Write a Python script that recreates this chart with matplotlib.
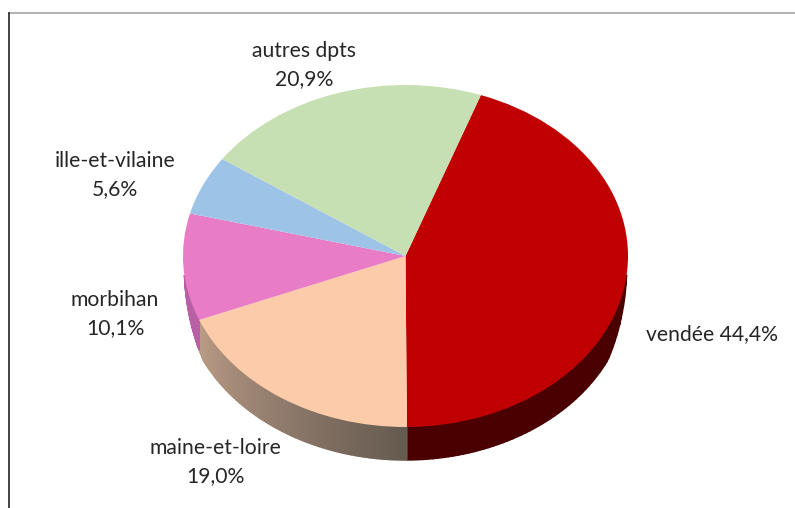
import numpy as np
import matplotlib
matplotlib.use('Agg')
import matplotlib.pyplot as plt
from matplotlib.colors import to_rgb

names = ['vendée', 'maine-et-loire', 'morbihan', 'ille-et-vilaine', 'autres dpts']
values = [44.4, 19.0, 10.1, 5.6, 20.9]
colors = ['#c00000', '#fbcbaa', '#e87cc6', '#9dc3e6', '#c6e0b4']
# wall colour at the left and right end of each slice
wall_left = ['#4a0000', '#bb9c87', '#b95fa5', '#7d9cb8', '#9eb38f']
wall_right = ['#4a0000', '#655a50', '#b95fa5', '#7d9cb8', '#9eb38f']

W, H = 795, 508
plt.rcParams['font.family'] = ['Lato', 'DejaVu Sans']

fig = plt.figure(figsize=(W / 100, H / 100), dpi=100)

# page axes in pixels, for the frame and the labels
page = fig.add_axes([0, 0, 1, 1])
page.set_xlim(0, W)
page.set_ylim(H, 0)
page.axis('off')
page.plot([9, W], [13, 13], color='#a6a6a6', lw=1.2)
page.plot([9, 9], [13, H], color='#222222', lw=1.2)

# pie top, squashed
left, right, top, bottom = 183, 628, 85, 427
ax = fig.add_axes([left / W, (H - bottom) / H, (right - left) / W, (bottom - top) / H])
depth = 33 / ((bottom - top) / 2)
start = 70.2

# side wall, thin strips so the shading can run along it
# the wall fades out towards the left and right ends of the ellipse
total = sum(values)
a0 = start
for v, cl, cr in zip(values, wall_left, wall_right):
    a1 = a0 - 360 * v / total
    th = np.radians(np.linspace(a1, a0, 120))
    x = np.cos(th)
    y = np.sin(th)
    d = depth * np.clip((-y - 0.115) / 0.3, 0, 1) ** 0.6
    for i in range(len(th) - 1):
        if d[i] == 0 and d[i + 1] == 0:
            continue
        t = i / (len(th) - 2)
        c = (1 - t) * np.array(to_rgb(cl)) + t * np.array(to_rgb(cr))
        ax.fill([x[i], x[i + 1], x[i + 1], x[i]],
                [y[i], y[i + 1], y[i + 1] - d[i + 1], y[i] - d[i]],
                facecolor=c, edgecolor=c, lw=1.0, clip_on=False, zorder=1)
    a0 = a1

wedges, _ = ax.pie(values, colors=colors, startangle=start, counterclock=False,
                   radius=1, wedgeprops={'zorder': 2, 'clip_on': False})
ax.set_aspect('auto')
ax.set_xlim(-1, 1)
ax.set_ylim(-1, 1)

# labels
pct = [f'{v:.1f}'.replace('.', ',') + '%' for v in values]
fs = 15.2
tc = '#262626'
sp = 1.47
page.text(712, 334, names[0] + ' ' + pct[0], ha='center', va='center', fontsize=fs, color=tc)
page.text(215, 462, names[1] + '\n' + pct[1], ha='center', va='center', fontsize=fs, color=tc, linespacing=sp)
page.text(115, 314, names[2] + '\n' + pct[2], ha='center', va='center', fontsize=fs, color=tc, linespacing=sp)
page.text(115, 175, names[3] + '\n' + pct[3], ha='center', va='center', fontsize=fs, color=tc, linespacing=sp)
page.text(304, 65, names[4] + '\n' + pct[4], ha='center', va='center', fontsize=fs, color=tc, linespacing=sp)

fig.savefig('out.png', dpi=100)
